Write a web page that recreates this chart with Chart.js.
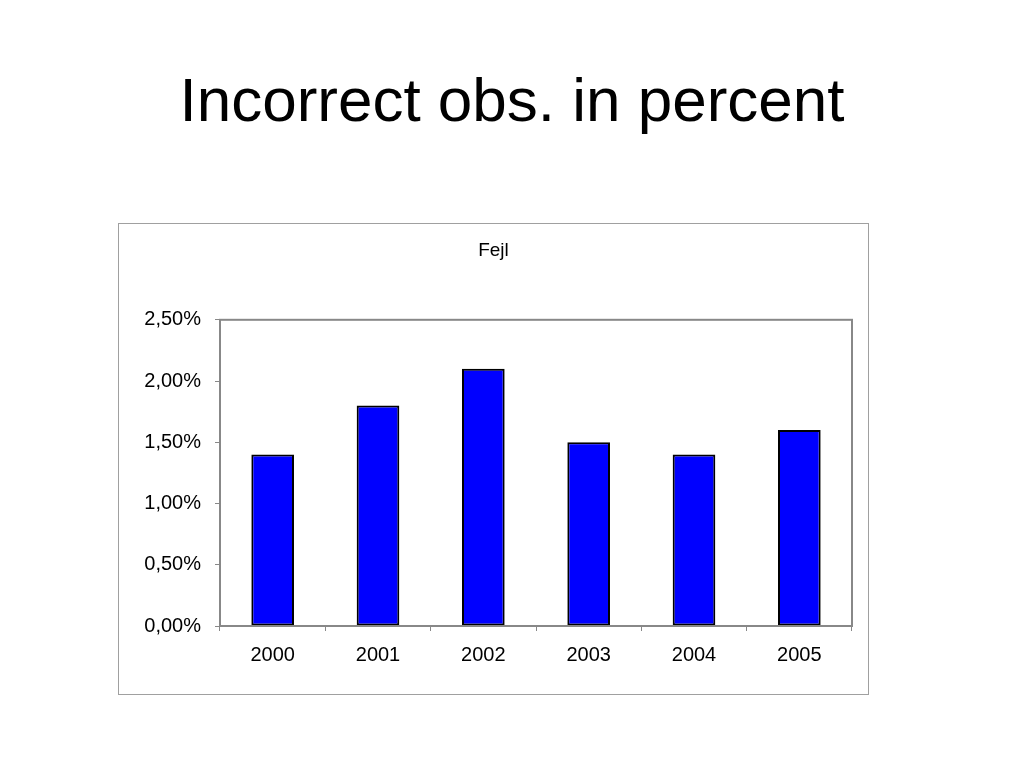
<!DOCTYPE html>
<html>
<head>
<meta charset="utf-8">
<script src="https://cdn.jsdelivr.net/npm/chart.js@4/dist/chart.umd.min.js"></script>
<style>
  html, body { margin: 0; padding: 0; background: #fff; width: 1024px; height: 768px; overflow: hidden; }
  h1 { position: absolute; left: 0; top: 69px; width: 1024px; margin: 0; text-align: center;
       font-family: "Liberation Sans", Arial, sans-serif; font-weight: normal; font-size: 62px; line-height: 62px; color: #000; }
  #frame { position: absolute; left: 118px; top: 223px; width: 749px; height: 470px; border: 1px solid #a0a0a0; }
  canvas { display: block; }
</style>
</head>
<body>
<h1>Incorrect obs. in percent</h1>
<div id="frame"><canvas id="c" width="749" height="470"></canvas></div>
<script>
const categories = ['2000', '2001', '2002', '2003', '2004', '2005'];
const seriesName = 'Fejl';
const errorPercent = [1.4, 1.8, 2.1, 1.5, 1.4, 1.6];
const yTickLabels = ['0,00%', '0,50%', '1,00%', '1,50%', '2,00%', '2,50%'];
const yTickStep = 0.5;

const plotBorder = {
  id: 'plotBorder',
  afterDatasetsDraw(chart) {
    const a = chart.chartArea, ctx = chart.ctx;
    ctx.save();
    ctx.strokeStyle = '#888888';
    ctx.lineWidth = 2;
    ctx.strokeRect(a.left, a.top, a.right - a.left, a.bottom - a.top);
    ctx.restore();
  }
};

new Chart(document.getElementById('c'), {
  type: 'bar',
  data: {
    labels: categories,
    datasets: [{
      label: seriesName,
      data: errorPercent,
      backgroundColor: '#0000ff',
      borderColor: '#000000',
      borderWidth: 2,
      borderSkipped: false,
      categoryPercentage: 1,
      barPercentage: 0.405
    }]
  },
  options: {
    responsive: false,
    animation: false,
    devicePixelRatio: 1,
    layout: { padding: 0 },
    font: { family: '"Liberation Sans", Arial, sans-serif' },
    plugins: {
      legend: { display: false },
      tooltip: { enabled: false },
      title: {
        display: true,
        text: seriesName,
        color: '#000',
        font: { family: '"Liberation Sans", Arial, sans-serif', size: 19, weight: 'normal', lineHeight: 1.2 },
        padding: { top: 15, bottom: 58 }
      }
    },
    scales: {
      x: {
        afterFit(s) { s.height = 68; },
        grid: { offset: true, drawOnChartArea: false, drawTicks: true, tickLength: 5, color: '#888888' },
        border: { display: true, color: '#888888', width: 2 },
        ticks: { color: '#000', padding: 12, font: { family: '"Liberation Sans", Arial, sans-serif', size: 20 } }
      },
      y: {
        min: 0, max: 2.5,
        afterFit(s) { s.width = 101; },
        grid: { drawOnChartArea: false, drawTicks: true, tickLength: 5, color: '#888888' },
        border: { display: true, color: '#888888', width: 2 },
        ticks: {
          stepSize: yTickStep,
          color: '#000',
          padding: 14,
          font: { family: '"Liberation Sans", Arial, sans-serif', size: 20 },
          callback: (v) => yTickLabels[Math.round(v / yTickStep)]
        }
      },
      yRight: {
        position: 'right',
        min: 0, max: 2.5,
        afterFit(s) { s.width = 16; },
        grid: { display: false },
        border: { display: false },
        ticks: { display: false }
      }
    }
  },
  plugins: [plotBorder]
});
</script>
</body>
</html>
